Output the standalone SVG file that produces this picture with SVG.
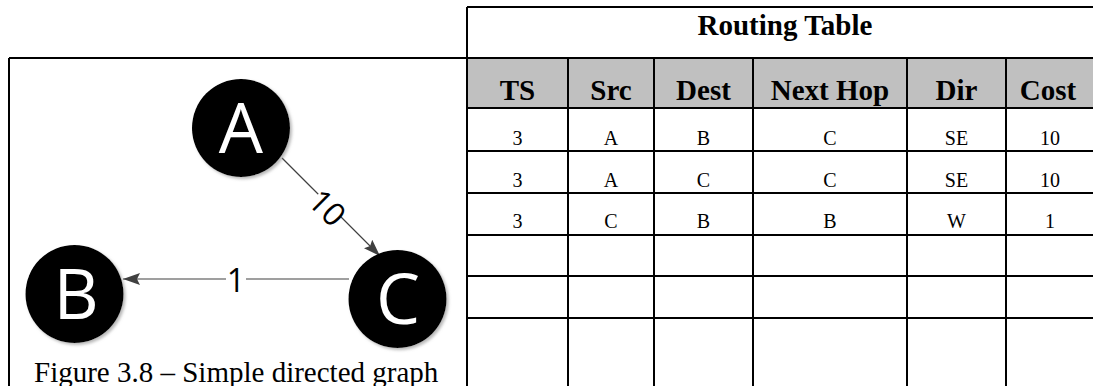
<svg xmlns="http://www.w3.org/2000/svg" width="1093" height="386" viewBox="0 0 1093 386">
<style>
.grid{stroke:#000;stroke-width:2;fill:none}
.node circle{fill:#000;filter:url(#sh)}
.node text{fill:#fff;font-family:"Open Sans","Noto Sans",sans-serif;font-size:70px;text-anchor:middle}
.edge{stroke:#404040;stroke-width:1.2;fill:none;marker-end:url(#arr)}
.elabel{font-family:"Open Sans","Noto Sans",sans-serif;font-size:32px;fill:#000;text-anchor:middle;dominant-baseline:central}
.th{font-family:"Liberation Serif","Times New Roman",serif;font-weight:bold;font-size:29px;text-anchor:middle;fill:#000}
.td{font-family:"Liberation Serif","Times New Roman",serif;font-size:20px;text-anchor:middle;fill:#000}
.cap{font-family:"Liberation Serif","Times New Roman",serif;font-size:29px;fill:#000}
</style>
<defs>
<filter id="sh" x="-20%" y="-20%" width="140%" height="140%">
<feDropShadow dx="2" dy="2" stdDeviation="1.5" flood-color="#888" flood-opacity="0.6"/>
</filter>
<marker id="arr" viewBox="0 0 17 12" refX="17" refY="6" markerWidth="17" markerHeight="12" markerUnits="userSpaceOnUse" orient="auto">
<path d="M0,0 L17,6 L0,12 L3,6 z" fill="#404040"/>
</marker>
</defs>
<rect width="1093" height="386" fill="#fff"/>

<g id="table">
<rect x="467" y="58" width="626" height="50" fill="#c0c0c0"/>
<path class="grid" d="M467,7 H1093 M9,58 H1093 M9,58 V386 M467,7 V386 M467,108 H1093 M467,151 H1093 M467,193 H1093 M467,235 H1093 M467,276 H1093 M467,318 H1093 M568,58 V386 M654,58 V386 M753,58 V386 M907,58 V386 M1006,58 V386"/>
<text class="th" x="785" y="35">Routing Table</text>
<text class="th" x="517.5" y="100">TS</text>
<text class="th" x="611" y="100">Src</text>
<text class="th" x="703.5" y="100">Dest</text>
<text class="th" x="830" y="100">Next Hop</text>
<text class="th" x="956.5" y="100">Dir</text>
<text class="th" x="1048" y="100">Cost</text>
<g>
<text class="td" x="517.5" y="145">3</text><text class="td" x="611" y="145">A</text><text class="td" x="703.5" y="145">B</text><text class="td" x="830" y="145">C</text><text class="td" x="956.5" y="145">SE</text><text class="td" x="1050" y="145">10</text>
<text class="td" x="517.5" y="187">3</text><text class="td" x="611" y="187">A</text><text class="td" x="703.5" y="187">C</text><text class="td" x="830" y="187">C</text><text class="td" x="956.5" y="187">SE</text><text class="td" x="1050" y="187">10</text>
<text class="td" x="517.5" y="228">3</text><text class="td" x="611" y="228">C</text><text class="td" x="703.5" y="228">B</text><text class="td" x="830" y="228">B</text><text class="td" x="956.5" y="228">W</text><text class="td" x="1050" y="228">1</text>
</g>
</g>

<g id="connectors">
<path class="edge" d="M282,158 L380,256"/>
<rect x="312" y="194" width="32" height="26" fill="#fff" transform="rotate(45 328 207)"/>
<text class="elabel" x="328" y="207" transform="rotate(45 328 207)">10</text>
<path class="edge" d="M349,279 L123,279"/>
<rect x="226" y="266" width="20" height="26" fill="#fff"/>
<text class="elabel" x="236" y="279">1</text>
</g>

<g id="node-A" class="node"><circle cx="241" cy="128" r="49"/><text x="241" y="153">A</text></g>
<g id="node-B" class="node"><circle cx="74.5" cy="294" r="49"/><text x="76" y="319">B</text></g>
<g id="node-C" class="node"><circle cx="397.5" cy="299" r="49"/><text x="398" y="324">C</text></g>

<text class="cap" x="34" y="382">Figure 3.8 – Simple directed graph</text>
</svg>
